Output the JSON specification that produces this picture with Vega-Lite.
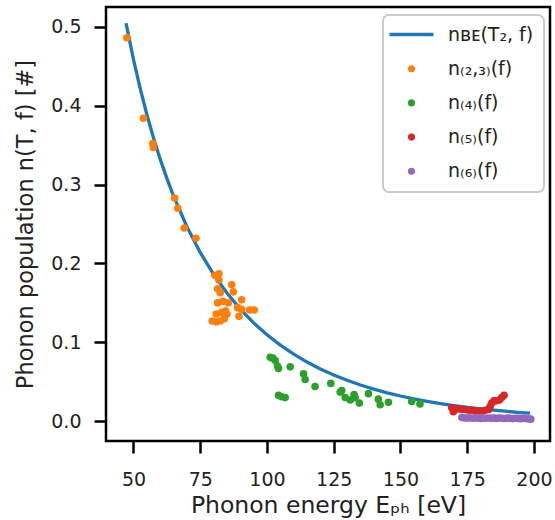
{
  "$schema": "https://vega.github.io/schema/vega-lite/v6.json",
  "width": 444,
  "height": 434,
  "autosize": {"type": "none"},
  "padding": {"left": 106, "top": 7, "right": 5, "bottom": 79},
  "background": "white",
  "config": {
    "font": "DejaVu Sans",
    "view": {"stroke": "black", "strokeWidth": 2.5},
    "legend": {"strokeWidth": 2},
    "axis": {
      "grid": false,
      "domain": false,
      "ticks": true,
      "tickColor": "black",
      "tickWidth": 2.5,
      "tickSize": 12,
      "labelFont": "DejaVu Sans",
      "labelFontSize": 19,
      "labelColor": "#222222",
      "titleFont": "DejaVu Sans",
      "titleFontSize": 23.5,
      "titleFontWeight": "normal",
      "titleColor": "#222222"
    }
  },
  "datasets": {
    "curve": [
      {"E": 47.2, "n": 0.5045},
      {"E": 50, "n": 0.4584},
      {"E": 52.5, "n": 0.4218},
      {"E": 55, "n": 0.3888},
      {"E": 57.5, "n": 0.3591},
      {"E": 60, "n": 0.3322},
      {"E": 62.5, "n": 0.3078},
      {"E": 65, "n": 0.2855},
      {"E": 70, "n": 0.2466},
      {"E": 75, "n": 0.2139},
      {"E": 80, "n": 0.1862},
      {"E": 85, "n": 0.1625},
      {"E": 90, "n": 0.1422},
      {"E": 95, "n": 0.1247},
      {"E": 100, "n": 0.1096},
      {"E": 105, "n": 0.09648},
      {"E": 110, "n": 0.08504},
      {"E": 115, "n": 0.07505},
      {"E": 120, "n": 0.06631},
      {"E": 125, "n": 0.05864},
      {"E": 130, "n": 0.05189},
      {"E": 135, "n": 0.04596},
      {"E": 140, "n": 0.04072},
      {"E": 145, "n": 0.03608},
      {"E": 150, "n": 0.03204},
      {"E": 155, "n": 0.02844},
      {"E": 160, "n": 0.02524},
      {"E": 165, "n": 0.02243},
      {"E": 170, "n": 0.01993},
      {"E": 175, "n": 0.01771},
      {"E": 180, "n": 0.01575},
      {"E": 185, "n": 0.014},
      {"E": 190, "n": 0.01245},
      {"E": 195, "n": 0.01108},
      {"E": 198.5, "n": 0.0102}
    ],
    "pts": [
      {"s": "n₍₂,₃₎(f)", "E": 47.5, "n": 0.486},
      {"s": "n₍₂,₃₎(f)", "E": 53.7, "n": 0.384},
      {"s": "n₍₂,₃₎(f)", "E": 57.2, "n": 0.352},
      {"s": "n₍₂,₃₎(f)", "E": 57.4, "n": 0.347},
      {"s": "n₍₂,₃₎(f)", "E": 65.4, "n": 0.283},
      {"s": "n₍₂,₃₎(f)", "E": 66.6, "n": 0.270},
      {"s": "n₍₂,₃₎(f)", "E": 69.0, "n": 0.245},
      {"s": "n₍₂,₃₎(f)", "E": 73.4, "n": 0.232},
      {"s": "n₍₂,₃₎(f)", "E": 82.0, "n": 0.187},
      {"s": "n₍₂,₃₎(f)", "E": 80.5, "n": 0.185},
      {"s": "n₍₂,₃₎(f)", "E": 82.0, "n": 0.179},
      {"s": "n₍₂,₃₎(f)", "E": 86.8, "n": 0.173},
      {"s": "n₍₂,₃₎(f)", "E": 87.4, "n": 0.164},
      {"s": "n₍₂,₃₎(f)", "E": 81.5, "n": 0.168},
      {"s": "n₍₂,₃₎(f)", "E": 82.5, "n": 0.163},
      {"s": "n₍₂,₃₎(f)", "E": 81.5, "n": 0.150},
      {"s": "n₍₂,₃₎(f)", "E": 83.5, "n": 0.152},
      {"s": "n₍₂,₃₎(f)", "E": 85.5, "n": 0.150},
      {"s": "n₍₂,₃₎(f)", "E": 90.5, "n": 0.154},
      {"s": "n₍₂,₃₎(f)", "E": 89.0, "n": 0.144},
      {"s": "n₍₂,₃₎(f)", "E": 90.5, "n": 0.142},
      {"s": "n₍₂,₃₎(f)", "E": 93.5, "n": 0.141},
      {"s": "n₍₂,₃₎(f)", "E": 95.2, "n": 0.141},
      {"s": "n₍₂,₃₎(f)", "E": 89.5, "n": 0.133},
      {"s": "n₍₂,₃₎(f)", "E": 79.5, "n": 0.127},
      {"s": "n₍₂,₃₎(f)", "E": 81.0, "n": 0.126},
      {"s": "n₍₂,₃₎(f)", "E": 82.5, "n": 0.127},
      {"s": "n₍₂,₃₎(f)", "E": 84.0, "n": 0.130},
      {"s": "n₍₂,₃₎(f)", "E": 81.0, "n": 0.136},
      {"s": "n₍₂,₃₎(f)", "E": 83.0, "n": 0.138},
      {"s": "n₍₂,₃₎(f)", "E": 85.0, "n": 0.136},
      {"s": "n₍₂,₃₎(f)", "E": 84.5, "n": 0.140},
      {"s": "n₍₄₎(f)", "E": 101.2, "n": 0.081},
      {"s": "n₍₄₎(f)", "E": 102.2, "n": 0.080},
      {"s": "n₍₄₎(f)", "E": 103.1, "n": 0.077},
      {"s": "n₍₄₎(f)", "E": 103.9, "n": 0.070},
      {"s": "n₍₄₎(f)", "E": 104.3, "n": 0.067},
      {"s": "n₍₄₎(f)", "E": 108.7, "n": 0.069},
      {"s": "n₍₄₎(f)", "E": 113.7, "n": 0.060},
      {"s": "n₍₄₎(f)", "E": 114.3, "n": 0.053},
      {"s": "n₍₄₎(f)", "E": 118.0, "n": 0.044},
      {"s": "n₍₄₎(f)", "E": 123.9, "n": 0.048},
      {"s": "n₍₄₎(f)", "E": 127.4, "n": 0.037},
      {"s": "n₍₄₎(f)", "E": 104.3, "n": 0.033},
      {"s": "n₍₄₎(f)", "E": 105.5, "n": 0.031},
      {"s": "n₍₄₎(f)", "E": 106.8, "n": 0.030},
      {"s": "n₍₄₎(f)", "E": 128.0, "n": 0.039},
      {"s": "n₍₄₎(f)", "E": 129.3, "n": 0.030},
      {"s": "n₍₄₎(f)", "E": 131.2, "n": 0.027},
      {"s": "n₍₄₎(f)", "E": 132.6, "n": 0.034},
      {"s": "n₍₄₎(f)", "E": 133.0, "n": 0.030},
      {"s": "n₍₄₎(f)", "E": 134.6, "n": 0.023},
      {"s": "n₍₄₎(f)", "E": 138.0, "n": 0.035},
      {"s": "n₍₄₎(f)", "E": 141.7, "n": 0.028},
      {"s": "n₍₄₎(f)", "E": 142.4, "n": 0.021},
      {"s": "n₍₄₎(f)", "E": 145.5, "n": 0.024},
      {"s": "n₍₄₎(f)", "E": 154.2, "n": 0.025},
      {"s": "n₍₄₎(f)", "E": 157.3, "n": 0.022},
      {"s": "n₍₅₎(f)", "E": 169.2, "n": 0.017},
      {"s": "n₍₅₎(f)", "E": 169.8, "n": 0.012},
      {"s": "n₍₅₎(f)", "E": 170.5, "n": 0.015},
      {"s": "n₍₅₎(f)", "E": 171.7, "n": 0.016},
      {"s": "n₍₅₎(f)", "E": 173.0, "n": 0.015},
      {"s": "n₍₅₎(f)", "E": 174.2, "n": 0.015},
      {"s": "n₍₅₎(f)", "E": 175.5, "n": 0.014},
      {"s": "n₍₅₎(f)", "E": 176.7, "n": 0.014},
      {"s": "n₍₅₎(f)", "E": 178.0, "n": 0.013},
      {"s": "n₍₅₎(f)", "E": 179.2, "n": 0.013},
      {"s": "n₍₅₎(f)", "E": 180.5, "n": 0.013},
      {"s": "n₍₅₎(f)", "E": 181.7, "n": 0.014},
      {"s": "n₍₅₎(f)", "E": 183.0, "n": 0.015},
      {"s": "n₍₅₎(f)", "E": 183.6, "n": 0.019},
      {"s": "n₍₅₎(f)", "E": 184.2, "n": 0.023},
      {"s": "n₍₅₎(f)", "E": 185.0, "n": 0.026},
      {"s": "n₍₅₎(f)", "E": 186.0, "n": 0.026},
      {"s": "n₍₅₎(f)", "E": 187.0, "n": 0.027},
      {"s": "n₍₅₎(f)", "E": 187.9, "n": 0.030},
      {"s": "n₍₅₎(f)", "E": 188.8, "n": 0.033},
      {"s": "n₍₆₎(f)", "E": 173.0, "n": 0.0048},
      {"s": "n₍₆₎(f)", "E": 174.0, "n": 0.0042},
      {"s": "n₍₆₎(f)", "E": 175.0, "n": 0.0040},
      {"s": "n₍₆₎(f)", "E": 176.0, "n": 0.0045},
      {"s": "n₍₆₎(f)", "E": 177.0, "n": 0.0038},
      {"s": "n₍₆₎(f)", "E": 178.0, "n": 0.0043},
      {"s": "n₍₆₎(f)", "E": 179.0, "n": 0.0040},
      {"s": "n₍₆₎(f)", "E": 180.0, "n": 0.0036},
      {"s": "n₍₆₎(f)", "E": 181.0, "n": 0.0042},
      {"s": "n₍₆₎(f)", "E": 182.0, "n": 0.0039},
      {"s": "n₍₆₎(f)", "E": 183.0, "n": 0.0041},
      {"s": "n₍₆₎(f)", "E": 184.0, "n": 0.0037},
      {"s": "n₍₆₎(f)", "E": 185.0, "n": 0.0040},
      {"s": "n₍₆₎(f)", "E": 186.0, "n": 0.0036},
      {"s": "n₍₆₎(f)", "E": 187.0, "n": 0.0041},
      {"s": "n₍₆₎(f)", "E": 188.0, "n": 0.0038},
      {"s": "n₍₆₎(f)", "E": 189.0, "n": 0.0035},
      {"s": "n₍₆₎(f)", "E": 190.0, "n": 0.0040},
      {"s": "n₍₆₎(f)", "E": 191.0, "n": 0.0037},
      {"s": "n₍₆₎(f)", "E": 192.0, "n": 0.0034},
      {"s": "n₍₆₎(f)", "E": 193.0, "n": 0.0039},
      {"s": "n₍₆₎(f)", "E": 194.0, "n": 0.0036},
      {"s": "n₍₆₎(f)", "E": 195.0, "n": 0.0033},
      {"s": "n₍₆₎(f)", "E": 196.0, "n": 0.0037},
      {"s": "n₍₆₎(f)", "E": 197.0, "n": 0.0034},
      {"s": "n₍₆₎(f)", "E": 198.0, "n": 0.0030},
      {"s": "n₍₆₎(f)", "E": 198.8, "n": 0.0027}
    ]
  },
  "encoding": {
    "x": {
      "field": "E",
      "type": "quantitative",
      "scale": {"domain": [39.7, 206.0], "nice": false, "zero": false},
      "axis": {
        "title": "Phonon energy Eₚₕ [eV]",
        "values": [50, 75, 100, 125, 150, 175, 200],
        "labelPadding": 17,
        "titlePadding": 4
      }
    },
    "y": {
      "field": "n",
      "type": "quantitative",
      "scale": {"domain": [-0.025, 0.525], "nice": false, "zero": false},
      "axis": {
        "title": "Phonon population n(T, f) [#]",
        "values": [0, 0.1, 0.2, 0.3, 0.4, 0.5],
        "format": ".1f",
        "labelPadding": 13,
        "titlePadding": 13,
        "titleFontSize": 22.5
      }
    }
  },
  "layer": [
    {
      "data": {"name": "curve"},
      "mark": {"type": "line", "color": "#1f77b4", "strokeWidth": 3.3, "clip": true}
    },
    {
      "data": {"name": "pts"},
      "mark": {"type": "point", "filled": true, "size": 58, "opacity": 1},
      "encoding": {
        "color": {
          "field": "s",
          "type": "nominal",
          "scale": {
            "domain": ["nʙᴇ(T₂, f)", "n₍₂,₃₎(f)", "n₍₄₎(f)", "n₍₅₎(f)", "n₍₆₎(f)"],
            "range": ["#1f77b4", "#ff7f0e", "#2ca02c", "#d62728", "#9467bd"]
          },
          "legend": {
            "title": null,
            "orient": "none",
            "legendX": 277,
            "legendY": 8,
            "padding": 10,
            "fillColor": "white",
            "strokeColor": "#cccccc",
            "cornerRadius": 6,
            "symbolSize": 50,
            "symbolOffset": 9,
            "labelOffset": 27,
            "rowPadding": 14.2,
            "labelFont": "DejaVu Sans",
            "labelFontSize": 19,
            "labelColor": "#222222",
            "labelLimit": 300
          }
        },
        "shape": {
          "field": "s",
          "type": "nominal",
          "scale": {
            "domain": ["nʙᴇ(T₂, f)", "n₍₂,₃₎(f)", "n₍₄₎(f)", "n₍₅₎(f)", "n₍₆₎(f)"],
            "range": ["M-6.22,-0.47L6.22,-0.47L6.22,0.47L-6.22,0.47Z", "circle", "circle", "circle", "circle"]
          },
          "legend": {
            "title": null,
            "orient": "none",
            "legendX": 277,
            "legendY": 8,
            "padding": 10,
            "fillColor": "white",
            "strokeColor": "#cccccc",
            "cornerRadius": 6,
            "symbolSize": 50,
            "symbolOffset": 9,
            "labelOffset": 27,
            "rowPadding": 14.2,
            "labelFont": "DejaVu Sans",
            "labelFontSize": 19,
            "labelColor": "#222222",
            "labelLimit": 300
          }
        }
      }
    }
  ]
}
